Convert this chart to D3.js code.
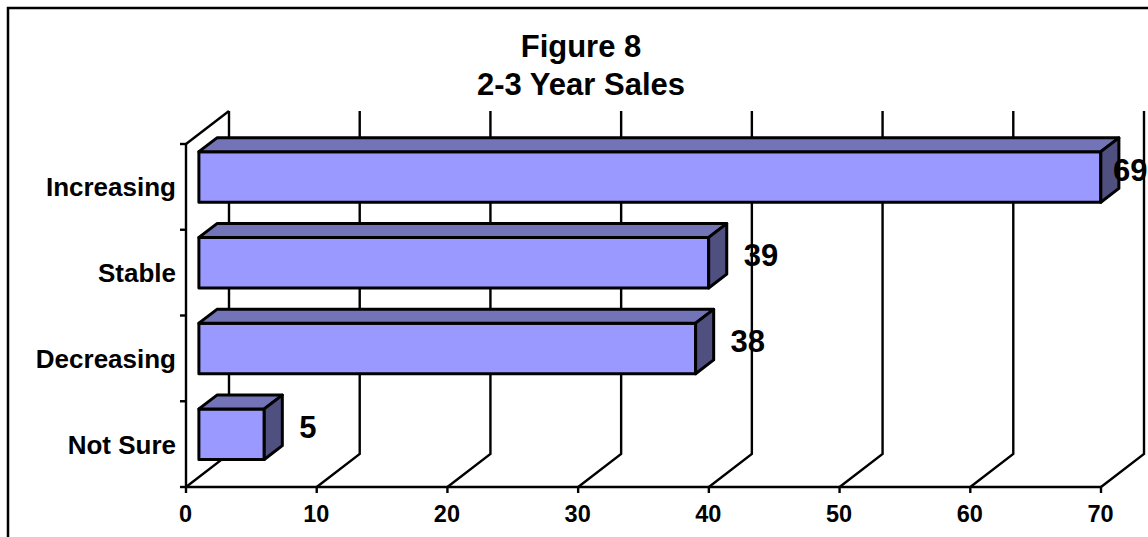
<!DOCTYPE html>
<html>
<head>
<meta charset="utf-8">
<script src="https://cdnjs.cloudflare.com/ajax/libs/d3/7.8.5/d3.min.js"></script>
<style>
  html, body { margin: 0; padding: 0; background: #fff; }
  svg { display: block; }
  text { font-family: "Liberation Sans", Arial, sans-serif; font-weight: bold; fill: #000; }
</style>
</head>
<body>
<svg id="chart" width="1148" height="537"></svg>
<script>
const categories = ["Increasing", "Stable", "Decreasing", "Not Sure"];
const values = [69, 39, 38, 5];
const valueTicks = [0, 10, 20, 30, 40, 50, 60, 70];
const titleLines = ["Figure 8", "2-3 Year Sales"];

const svg = d3.select("#chart");

// Oblique projection of the 3-D box: floor depth runs up and to the right.
const depth = { dx: 43, dy: -33 };
const barDepth = { near: 0.3, far: 0.72 };

const x = d3.scaleLinear().domain([0, 70]).range([186, 1101]);
const y = d3.scaleBand().domain(categories).range([144, 487]);
const barInset = y.bandwidth() * 0.205;

// Panel border: left and top edges only
svg.append("path")
  .attr("d", d3.line()([[8, 537], [8, 8], [1148, 8]]))
  .attr("fill", "none").attr("stroke", "#000").attr("stroke-width", 2.5);

const grid = svg.append("g").attr("stroke", "#000").attr("stroke-width", 2.4).attr("fill", "none");

// Back-wall gridlines with their floor diagonals
grid.selectAll("path.grid").data(valueTicks).join("path")
  .attr("class", "grid")
  .attr("d", t => d3.line()([
    [x(t), y.range()[1]],
    [x(t) + depth.dx, y.range()[1] + depth.dy],
    [x(t) + depth.dx, y.range()[0] + depth.dy]
  ]));

// Side-wall diagonal at the top of the category axis
grid.append("path").attr("d", d3.line()([
  [x(0), y.range()[0]],
  [x(0) + depth.dx, y.range()[0] + depth.dy]
]));

// Front axis lines and tick marks
grid.append("path").attr("d", d3.line()([
  [x(0), y.range()[0]], [x(0), y.range()[1]], [x(70), y.range()[1]]
]));
const catTicks = categories.map(c => y(c)).concat(y.range()[1]);
grid.selectAll("line.cat").data(catTicks).join("line")
  .attr("class", "cat")
  .attr("x1", x(0) - 6).attr("x2", x(0)).attr("y1", d => d).attr("y2", d => d);
grid.selectAll("line.val").data(valueTicks).join("line")
  .attr("class", "val")
  .attr("x1", d => x(d)).attr("x2", d => x(d))
  .attr("y1", y.range()[1]).attr("y2", y.range()[1] + 6);

// Axis labels
svg.selectAll("text.val").data(valueTicks).join("text")
  .attr("class", "val")
  .attr("x", d => x(d) - 0.5).attr("y", 522)
  .attr("text-anchor", "middle").attr("font-size", 23.5)
  .text(d => d);
svg.selectAll("text.cat").data(categories).join("text")
  .attr("class", "cat")
  .attr("x", 176).attr("y", d => y(d) + y.bandwidth() / 2 + 9.5)
  .attr("text-anchor", "end").attr("font-size", 26)
  .text(d => d);

// Bars: front, top and side faces of each box
const bars = categories.map((c, i) => {
  const ox = depth.dx * barDepth.near, oy = depth.dy * barDepth.near;
  const w = depth.dx * (barDepth.far - barDepth.near), h = depth.dy * (barDepth.far - barDepth.near);
  return {
    x0: x(0) + ox, x1: x(values[i]) + ox,
    y0: y(c) + barInset + oy, y1: y(c) + y.bandwidth() - barInset + oy,
    w, h, value: values[i]
  };
});
const barG = svg.selectAll("g.bar").data(bars).join("g")
  .attr("class", "bar")
  .attr("stroke", "#000").attr("stroke-width", 3).attr("stroke-linejoin", "round");
barG.append("path").attr("fill", "#9999ff")
  .attr("d", b => d3.line()([[b.x0, b.y0], [b.x1, b.y0], [b.x1, b.y1], [b.x0, b.y1]]) + "Z");
barG.append("path").attr("fill", "#7373b8")
  .attr("d", b => d3.line()([[b.x0, b.y0], [b.x0 + b.w, b.y0 + b.h], [b.x1 + b.w, b.y0 + b.h], [b.x1, b.y0]]) + "Z");
barG.append("path").attr("fill", "#4f4f80")
  .attr("d", b => d3.line()([[b.x1, b.y0], [b.x1 + b.w, b.y0 + b.h], [b.x1 + b.w, b.y1 + b.h], [b.x1, b.y1]]) + "Z");

// Value labels sit past the end of each box, held back from the right edge
const labelRightLimit = 1113;
svg.selectAll("text.value").data(bars).join("text")
  .attr("class", "value")
  .attr("x", b => Math.min(b.x1 + 35, labelRightLimit)).attr("y", b => b.y0 + 29)
  .attr("font-size", 31)
  .text(b => b.value);

// Two-line title
svg.selectAll("text.title").data(titleLines).join("text")
  .attr("class", "title")
  .attr("x", 581).attr("y", (d, i) => 57 + i * 38)
  .attr("text-anchor", "middle").attr("font-size", 31)
  .text(d => d);
</script>
</body>
</html>
